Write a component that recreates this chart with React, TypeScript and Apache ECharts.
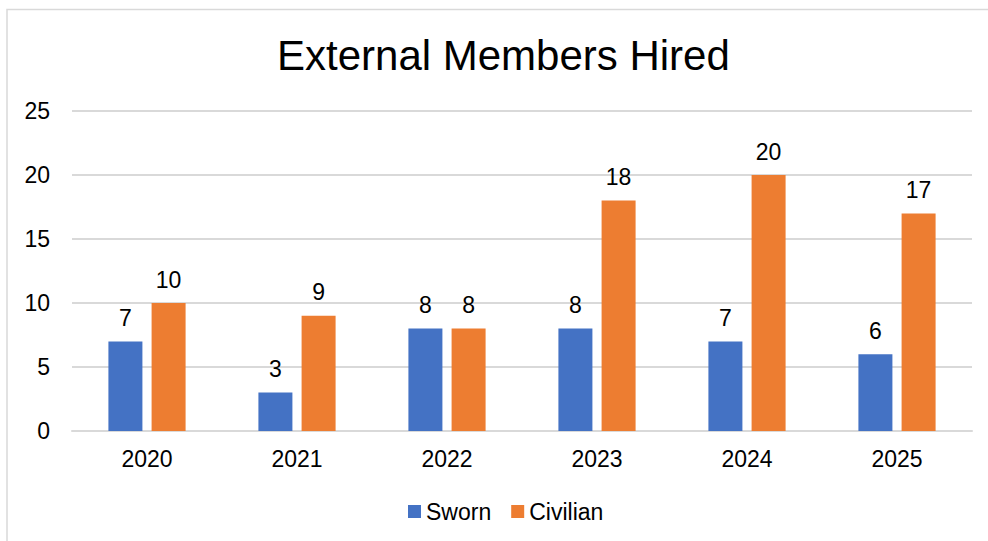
import React, { useEffect, useRef } from "react";
import * as echarts from "echarts";

const categories = ["2020", "2021", "2022", "2023", "2024", "2025"];
const swornValues = [7, 3, 8, 8, 7, 6];
const civilianValues = [10, 9, 8, 18, 20, 17];
const yTicks = [0, 5, 10, 15, 20, 25];

const FONT = "'Liberation Sans', Arial, sans-serif";

export default function App() {
  const ref = useRef<HTMLDivElement>(null);
  useEffect(() => {
    if (!ref.current) return;
    const chart = echarts.init(ref.current, null, { renderer: "svg" });
    const labelStyle = {
      show: true,
      position: "top" as const,
      distance: 12,
      color: "#000",
      fontSize: 23,
      fontFamily: FONT,
    };
    chart.setOption({
      animation: false,
      backgroundColor: "#fff",
      title: {
        text: "External Members Hired",
        left: 272,
        top: 29,
        textStyle: { fontSize: 42, fontWeight: "normal", color: "#000", fontFamily: FONT },
      },
      graphic: [
        {
          type: "rect",
          shape: { x: 7, y: 9.5, width: 1200, height: 800 },
          style: { fill: "none", stroke: "#d9d9d9", lineWidth: 1.5 },
          silent: true,
        },
      ],
      legend: {
        data: ["Sworn", "Civilian"],
        left: 403,
        top: 495,
        itemWidth: 13,
        itemHeight: 13,
        itemGap: 20,
        icon: "rect",
        textStyle: { fontSize: 23, color: "#000", fontFamily: FONT },
      },
      grid: { left: 72, right: 16, top: 111, bottom: 110 },
      xAxis: {
        type: "category",
        data: categories,
        axisLine: { lineStyle: { color: "#d9d9d9", width: 2 } },
        axisTick: { show: false },
        axisLabel: { fontSize: 23, color: "#000", fontFamily: FONT, margin: 16 },
      },
      yAxis: {
        type: "value",
        min: yTicks[0],
        max: yTicks[yTicks.length - 1],
        interval: 5,
        axisLine: { show: false },
        axisTick: { show: false },
        splitLine: { lineStyle: { color: "#d9d9d9", width: 2 } },
        axisLabel: { fontSize: 23, color: "#000", fontFamily: FONT, margin: 22 },
      },
      series: [
        {
          name: "Sworn",
          type: "bar",
          data: swornValues,
          barWidth: 34,
          barGap: "27%",
          itemStyle: { color: "#4472C4" },
          label: labelStyle,
        },
        {
          name: "Civilian",
          type: "bar",
          data: civilianValues,
          barWidth: 34,
          barGap: "27%",
          itemStyle: { color: "#ED7D31" },
          label: labelStyle,
        },
      ],
    });
    return () => chart.dispose();
  }, []);
  return (
    <div
      ref={ref}
      style={{ position: "absolute", left: 0, top: 0, width: 988, height: 541 }}
    />
  );
}
